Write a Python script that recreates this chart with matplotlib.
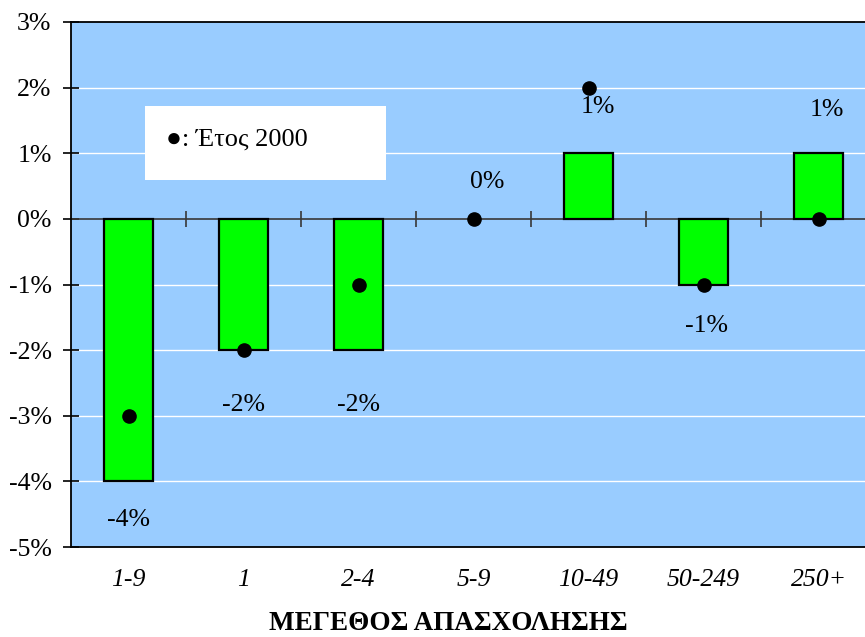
import matplotlib
matplotlib.use("Agg")
import matplotlib.pyplot as plt
from matplotlib.patches import Rectangle
import numpy as np

categories = ["1-9", "1", "2-4", "5-9", "10-49", "50-249", "250+"]
change_pct = [-4, -2, -2, 0, 1, -1, 1]
year_2000_pct = [-3, -2, -1, 0, 2, -1, 0]
yticks_pct = [-5, -4, -3, -2, -1, 0, 1, 2, 3]

# label nudges in pixels (x, y) relative to the bar end
label_nudge = [(0, -39), (0, -55), (0, -55), (14, 37), (9, 46), (3, -41), (8, 43)]

plt.rcParams["font.family"] = ["Liberation Serif", "DejaVu Sans"]

W, H = 865, 637
fig = plt.figure(figsize=(W / 100, H / 100), dpi=100)
# plot area runs a little past the right edge of the picture
ax = fig.add_axes([71 / W, 90 / H, 805 / W, 525 / H])
ax.set_facecolor("#99CCFF")

x = np.arange(len(categories))
ax.set_xlim(-0.5, len(categories) - 0.5)
ax.set_ylim(-5, 3)

for y in yticks_pct[1:-1]:
    if y != 0:
        ax.axhline(y, color="white", lw=1.0, zorder=1)

edge_w = [1.6 if v != 0 else 0 for v in change_pct]
ax.bar(x, change_pct, width=0.42, color="#00FF00", edgecolor="black",
       linewidth=edge_w, zorder=3)

# zero axis with category separators
ax.axhline(0, color="#383838", lw=1.2, zorder=2)
ax.plot(x[:-1] + 0.5, np.zeros(len(x) - 1), linestyle="none", marker="|",
        markersize=11, markeredgewidth=1.2, color="#383838", zorder=2)

ax.plot(x, year_2000_pct, linestyle="none", marker="o", markersize=9.5,
        color="black", zorder=4)

for xi, v, (dx, dy) in zip(x, change_pct, label_nudge):
    ax.annotate(f"{v}%", (xi, v), xytext=(dx, dy), textcoords="offset pixels",
                ha="center", va="center", fontsize=18.5, zorder=5)

ax.set_yticks(yticks_pct)
ax.set_yticklabels([f"{v}%" for v in yticks_pct], fontsize=18.5)
ax.tick_params(axis="y", direction="inout", length=12, width=1.2, pad=8)

ax.set_xticks(x)
ax.set_xticklabels(categories, fontsize=18.5, style="italic")
ax.tick_params(axis="x", length=0, pad=16)

for side in ["left", "top", "bottom"]:
    ax.spines[side].set_color("black")
    ax.spines[side].set_linewidth(1.3)
ax.spines["right"].set_visible(False)

# legend box
ax.add_patch(Rectangle((74 / 805, 367 / 525), 241 / 805, 74 / 525,
                       transform=ax.transAxes, facecolor="white",
                       edgecolor="none", zorder=4))
ax.text(95 / 805, 407 / 525, "●: Έτος 2000", transform=ax.transAxes,
        ha="left", va="center", fontsize=19, zorder=5)

fig.text(448 / W, 1.5 / H, "ΜΕΓΕΘΟΣ ΑΠΑΣΧΟΛΗΣΗΣ", ha="center",
         va="bottom", fontsize=19.5, fontweight="bold")

fig.savefig("out.png", dpi=100)
